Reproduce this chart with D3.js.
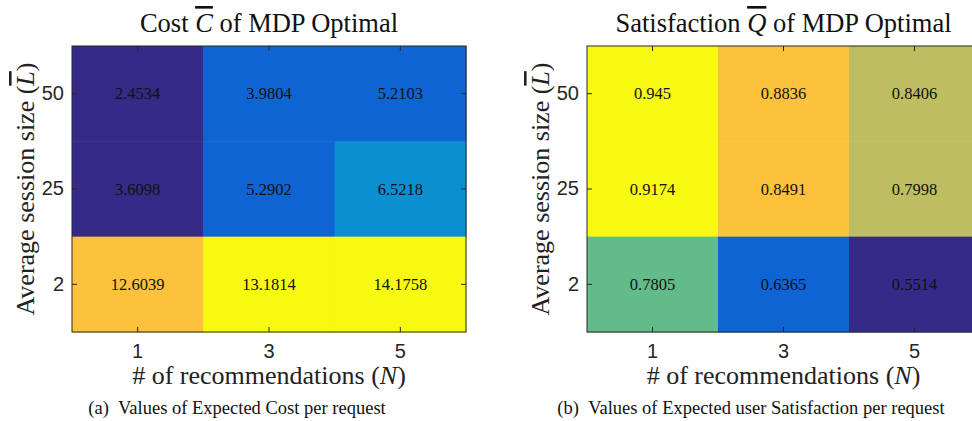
<!DOCTYPE html>
<html>
<head>
<meta charset="utf-8">
<script src="https://cdn.jsdelivr.net/npm/d3@7"></script>
<style>
  html, body { margin: 0; padding: 0; background: #fff; }
  svg { display: block; }
  .serif { font-family: "Liberation Serif", "Times New Roman", serif; }
  .sans { font-family: "Liberation Sans", Arial, sans-serif; }
</style>
</head>
<body>
<svg id="chart" width="972" height="421"></svg>
<script>
// ---------- data ----------
const sessionSizes = ["50", "25", "2"];          // rows (top to bottom)
const recommendations = ["1", "3", "5"];         // columns
const costValues = [
  [2.4534, 3.9804, 5.2103],
  [3.6098, 5.2902, 6.5218],
  [12.6039, 13.1814, 14.1758]
];
const satisfactionValues = [
  [0.945, 0.8836, 0.8406],
  [0.9174, 0.8491, 0.7998],
  [0.7805, 0.6365, 0.5514]
];
const parula8 = ["#352a87", "#0f64d4", "#0990d0", "#20b2b8", "#63bb89", "#bdbd62", "#fcc23b", "#f7fa10"];

const titleA = { pre: "Cost ", sym: "C", post: " of MDP Optimal" };
const titleB = { pre: "Satisfaction ", sym: "Q", post: " of MDP Optimal" };
const captionA = "(a)\u2002Values of Expected Cost per request";
const captionB = "(b)\u2002Values of Expected user Satisfaction per request";

// ---------- layout ----------
const svg = d3.select("#chart");
const axisColor = "#262626";

function panel(opts) {
  const { left, top, width, height, values, title, caption, captionX } = opts;
  const g = svg.append("g");
  const x = d3.scaleBand().domain(recommendations).range([left, left + width]);
  const y = d3.scaleBand().domain(sessionSizes).range([top, top + height]);
  const flat = values.flat();
  const color = d3.scaleQuantize().domain(d3.extent(flat)).range(parula8);

  const cells = [];
  sessionSizes.forEach((s, i) => recommendations.forEach((r, j) => cells.push({ s, r, v: values[i][j] })));

  g.selectAll("rect.cell").data(cells).join("rect")
    .attr("class", "cell")
    .attr("x", d => x(d.r)).attr("y", d => y(d.s))
    .attr("width", x.bandwidth() + 0.5).attr("height", y.bandwidth() + 0.5)
    .attr("fill", d => color(d.v));

  g.selectAll("text.val").data(cells).join("text")
    .attr("class", "val serif")
    .attr("x", d => x(d.r) + x.bandwidth() / 2)
    .attr("y", d => y(d.s) + y.bandwidth() / 2)
    .attr("text-anchor", "middle").attr("dominant-baseline", "central")
    .style("font-size", "16.5px").attr("fill", "#111")
    .text(d => String(d.v));

  // frame
  g.append("rect").attr("x", left).attr("y", top).attr("width", width).attr("height", height)
    .attr("fill", "none").attr("stroke", axisColor).attr("stroke-width", 1);

  const tickLen = 5;
  const xAxisB = d3.axisBottom(x).tickSizeInner(-tickLen).tickSizeOuter(0).tickPadding(12);
  const gx = g.append("g").attr("transform", `translate(0,${top + height})`).call(xAxisB);
  const xAxisT = d3.axisTop(x).tickSizeInner(-tickLen).tickSizeOuter(0).tickFormat("");
  const gxt = g.append("g").attr("transform", `translate(0,${top})`).call(xAxisT);
  const yAxisL = d3.axisLeft(y).tickSizeInner(-tickLen).tickSizeOuter(0).tickPadding(8);
  const gy = g.append("g").attr("transform", `translate(${left},0)`).call(yAxisL);
  const yAxisR = d3.axisRight(y).tickSizeInner(-tickLen).tickSizeOuter(0).tickFormat("");
  const gyr = g.append("g").attr("transform", `translate(${left + width},0)`).call(yAxisR);
  [gx, gxt, gy, gyr].forEach(a => {
    a.attr("font-family", null).attr("font-size", null).attr("class", "sans");
    a.select(".domain").remove();
    a.selectAll("line").attr("stroke", axisColor);
    a.selectAll("text").style("font-size", "20px").attr("fill", axisColor);
  });
  gx.selectAll("text").attr("dy", "0.71em");

  const cx = left + width / 2;
  // title
  const t = g.append("text").attr("class", "serif").attr("x", cx).attr("y", top - 14)
    .attr("text-anchor", "middle").style("font-size", "26.5px").attr("fill", "#111");
  t.append("tspan").text(title.pre);
  t.append("tspan").style("font-style", "italic").style("text-decoration", "overline").text(title.sym);
  t.append("tspan").text(title.post);

  // x label
  const xl = g.append("text").attr("class", "serif").attr("x", cx).attr("y", top + height + 52)
    .attr("text-anchor", "middle").style("font-size", "26px").attr("fill", "#222");
  xl.append("tspan").text("# of recommendations (");
  xl.append("tspan").style("font-style", "italic").text("N");
  xl.append("tspan").text(")");

  // y label
  const yl = g.append("text").attr("class", "serif")
    .attr("transform", `translate(${left - 38},${top + height / 2}) rotate(-90)`)
    .attr("text-anchor", "middle").style("font-size", "26px").attr("fill", "#222");
  yl.append("tspan").text("Average session size (");
  yl.append("tspan").style("font-style", "italic").style("text-decoration", "overline").text("L");
  yl.append("tspan").text(")");

  // caption
  g.append("text").attr("class", "serif").attr("x", captionX).attr("y", 414)
    .attr("text-anchor", "middle").style("font-size", "18.5px")
    .attr("fill", "#111").text(caption);
}

panel({ left: 72, top: 46, width: 394, height: 286, values: costValues, title: titleA, caption: captionA, captionX: 237 });
panel({ left: 587, top: 46, width: 393, height: 286, values: satisfactionValues, title: titleB, caption: captionB, captionX: 751 });
</script>
</body>
</html>
